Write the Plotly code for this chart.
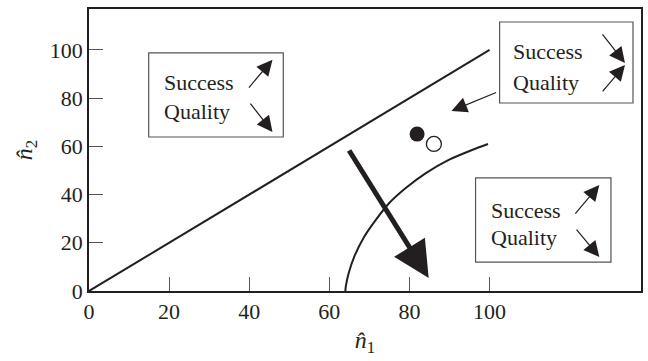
import plotly.graph_objects as go

# Diagonal reference line n2 = n1
diag_x = [0, 100]
diag_y = [0, 100]

# Boundary curve
curve_x = [64.0, 64.1, 64.8, 66.2, 68.7, 71.6, 74.9, 79.0, 84.0, 89.8, 95.6, 99.6]
curve_y = [0.0, 1.8, 7.3, 14.2, 22.5, 29.5, 36.4, 42.6, 48.8, 54.4, 58.5, 61.0]

# Operating points
filled_pt = (81.9, 65.1)
open_pt = (86.1, 61.0)

# Tick values
x_ticks = [0, 20, 40, 60, 80, 100]
y_ticks = [0, 20, 40, 60, 80, 100]

# Label boxes: (x0, x1, y0, y1)
boxes = [
    (14.9, 48.5, 63.9, 98.8),
    (102.5, 135.8, 78.0, 111.6),
    (96.5, 130.3, 12.0, 46.9),
]
# Text rows for each box: (x_left, y_success, y_quality)
box_text = [
    (18.2, 86.3, 74.3),
    (105.4, 99.2, 86.7),
    (99.8, 33.6, 22.0),
]
# Small arrows inside boxes: (tail_x, tail_y, head_x, head_y)
small_arrows = [
    (39.6, 83.8, 45.8, 95.9),
    (40.0, 78.4, 45.8, 66.0),
    (127.9, 107.1, 133.8, 94.6),
    (127.9, 82.2, 133.8, 93.8),
    (121.1, 31.5, 127.4, 44.0),
    (121.4, 26.1, 127.4, 14.1),
]
# Pointer from box to the operating points
pointer = (102.0, 82.6, 90.5, 74.7)
# Thick direction arrow
big_arrow = (64.7, 58.9, 84.8, 5.4)

FONT = "Liberation Serif"
INK = "#231f20"

fig = go.Figure()
fig.add_trace(go.Scatter(x=diag_x, y=diag_y, mode="lines",
                         line=dict(color=INK, width=2), hoverinfo="skip"))
fig.add_trace(go.Scatter(x=curve_x, y=curve_y, mode="lines",
                         line=dict(color=INK, width=2, shape="spline",
                                   smoothing=0.8),
                         hoverinfo="skip"))
fig.add_trace(go.Scatter(x=[filled_pt[0]], y=[filled_pt[1]], mode="markers",
                         marker=dict(size=15, color=INK)))
fig.add_trace(go.Scatter(x=[open_pt[0]], y=[open_pt[1]], mode="markers",
                         marker=dict(size=15, color="white",
                                     line=dict(color=INK, width=1.3))))

shapes = []
for x0, x1, y0, y1 in boxes:
    shapes.append(dict(type="rect", xref="x", yref="y", x0=x0, x1=x1,
                       y0=y0, y1=y1, line=dict(color="#555", width=1.2),
                       fillcolor="rgba(0,0,0,0)", layer="above"))

annotations = []
for xl, ys, yq in box_text:
    for txt, yy in (("Success", ys), ("Quality", yq)):
        annotations.append(dict(x=xl, y=yy, xref="x", yref="y", text=txt,
                                showarrow=False, xanchor="left",
                                yanchor="middle",
                                font=dict(family=FONT, size=22, color=INK)))
for tx, ty, hx, hy in small_arrows:
    annotations.append(dict(x=hx, y=hy, ax=tx, ay=ty, xref="x", yref="y",
                            axref="x", ayref="y", text="", showarrow=True,
                            arrowhead=2, arrowsize=2.6, arrowwidth=1.2,
                            arrowcolor=INK))
tx, ty, hx, hy = pointer
annotations.append(dict(x=hx, y=hy, ax=tx, ay=ty, xref="x", yref="y",
                        axref="x", ayref="y", text="", showarrow=True,
                        arrowhead=2, arrowsize=2.6, arrowwidth=1.2,
                        arrowcolor=INK))
tx, ty, hx, hy = big_arrow
annotations.append(dict(x=hx, y=hy, ax=tx, ay=ty, xref="x", yref="y",
                        axref="x", ayref="y", text="", showarrow=True,
                        arrowhead=2, arrowsize=1.45, arrowwidth=5,
                        arrowcolor=INK))

axis_common = dict(showgrid=False, zeroline=False, showline=True,
                   linecolor=INK, linewidth=1.5, mirror=True,
                   ticks="inside", ticklen=14, tickwidth=1,
                   tickcolor="#555",
                   tickfont=dict(family=FONT, size=22, color=INK))

fig.update_layout(
    width=648, height=361,
    margin=dict(l=89, r=5, t=9, b=70),
    paper_bgcolor="white", plot_bgcolor="white",
    showlegend=False,
    shapes=shapes, annotations=annotations,
    xaxis=dict(range=[0, 137.8], tickvals=x_ticks,
               title=dict(text="<i>n̂</i><sub>1</sub>", standoff=8,
                          font=dict(family=FONT, size=24, color=INK)),
               **axis_common),
    yaxis=dict(range=[0, 117], tickvals=y_ticks,
               title=dict(text="<i>n̂</i><sub>2</sub>", standoff=10,
                          font=dict(family=FONT, size=24, color=INK)),
               **axis_common),
)

fig.write_html("out.html")
